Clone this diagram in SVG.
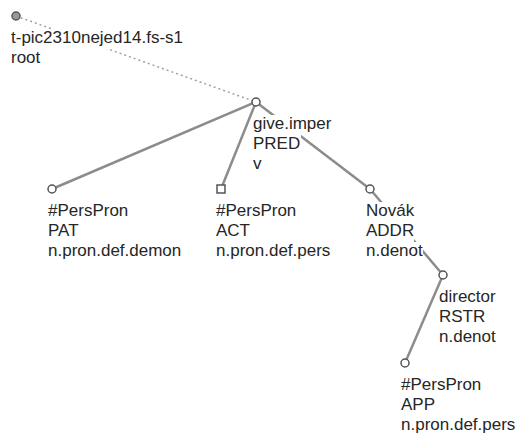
<svg xmlns="http://www.w3.org/2000/svg" width="517" height="437" viewBox="0 0 517 437">
<style>
text{font-family:"Liberation Sans",Arial,sans-serif;font-size:17px;fill:#262626}
.e{stroke:#8c8c8c;stroke-width:2.5;fill:none}
.d{stroke:#a0a0a0;stroke-width:1.5;stroke-dasharray:2 3;fill:none}
.n{fill:#fff;stroke:#555;stroke-width:1.5}
.bg{fill:#fff}
</style>
<rect width="517" height="437" fill="#fff"/>
<g id="connectors">
<line class="d" x1="16" y1="16" x2="256" y2="102"/>
<line class="e" x1="256" y1="102" x2="52" y2="189"/>
<line class="e" x1="256" y1="102" x2="221" y2="189"/>
<line class="e" x1="256" y1="102" x2="370" y2="189"/>
<line class="e" x1="370" y1="189" x2="443" y2="275"/>
<line class="e" x1="443" y1="275" x2="405" y2="363"/>
</g>
<g id="root">
<rect class="bg" x="11" y="29" width="171" height="20"/>
<rect class="bg" x="11" y="49" width="30" height="20"/>
<circle cx="16" cy="16" r="4" fill="#999" stroke="#555" stroke-width="1.5"/>
<text x="11" y="43">t-pic2310nejed14.fs-s1</text>
<text x="11" y="63">root</text>
</g>
<g id="give">
<rect class="bg" x="253" y="115" width="79" height="20"/>
<rect class="bg" x="253" y="135" width="48" height="20"/>
<rect class="bg" x="253" y="155" width="9" height="20"/>
<circle class="n" cx="256" cy="102" r="4"/>
<text x="253" y="129">give.imper</text>
<text x="253" y="149">PRED</text>
<text x="253" y="169">v</text>
</g>
<g id="pat">
<rect class="bg" x="48" y="202" width="80" height="20"/>
<rect class="bg" x="48" y="222" width="34" height="20"/>
<rect class="bg" x="48" y="242" width="133" height="20"/>
<circle class="n" cx="52" cy="189" r="4"/>
<text x="48" y="216">#PersPron</text>
<text x="48" y="236">PAT</text>
<text x="48" y="256">n.pron.def.demon</text>
</g>
<g id="act">
<rect class="bg" x="216" y="202" width="80" height="20"/>
<rect class="bg" x="216" y="222" width="34" height="20"/>
<rect class="bg" x="216" y="242" width="114" height="20"/>
<rect class="n" x="217" y="185" width="8" height="8"/>
<text x="216" y="216">#PersPron</text>
<text x="216" y="236">ACT</text>
<text x="216" y="256">n.pron.def.pers</text>
</g>
<g id="novak">
<rect class="bg" x="366" y="202" width="48" height="20"/>
<rect class="bg" x="366" y="222" width="48" height="20"/>
<rect class="bg" x="366" y="242" width="57" height="20"/>
<circle class="n" cx="370" cy="189" r="4"/>
<text x="366" y="216">Novák</text>
<text x="366" y="236">ADDR</text>
<text x="366" y="256">n.denot</text>
</g>
<g id="director">
<rect class="bg" x="439" y="288" width="57" height="20"/>
<rect class="bg" x="439" y="308" width="46" height="20"/>
<rect class="bg" x="439" y="328" width="57" height="20"/>
<circle class="n" cx="443" cy="275" r="4"/>
<text x="439" y="302">director</text>
<text x="439" y="322">RSTR</text>
<text x="439" y="342">n.denot</text>
</g>
<g id="app">
<rect class="bg" x="401" y="376" width="80" height="20"/>
<rect class="bg" x="401" y="396" width="34" height="20"/>
<rect class="bg" x="401" y="416" width="114" height="20"/>
<circle class="n" cx="405" cy="363" r="4"/>
<text x="401" y="390">#PersPron</text>
<text x="401" y="410">APP</text>
<text x="401" y="430">n.pron.def.pers</text>
</g>
</svg>
